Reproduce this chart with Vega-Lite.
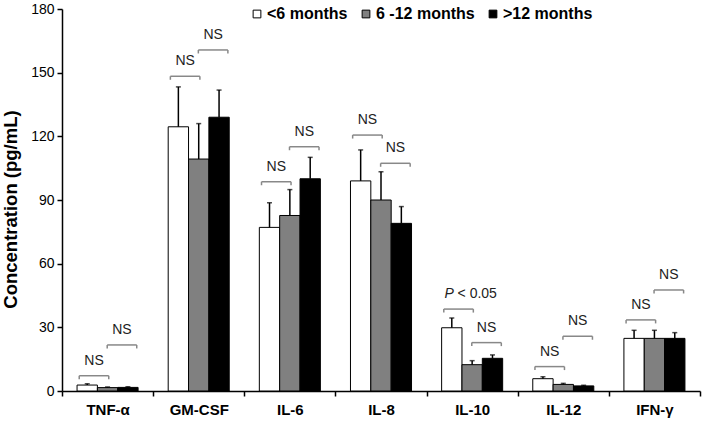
{
  "$schema": "https://vega.github.io/schema/vega-lite/v6.json",
  "autosize": "none",
  "width": 638,
  "height": 382,
  "padding": {"left": 62, "top": 9, "right": 5, "bottom": 35},
  "background": "white",
  "config": {
    "view": {"stroke": null},
    "font": "Liberation Sans",
    "axis": {"labelFont": "Liberation Sans", "titleFont": "Liberation Sans", "domainColor": "black", "tickColor": "black", "labelColor": "black", "titleColor": "black", "grid": false}
  },
  "datasets": {
    "bars": [
      {"cytokine": "TNF-α", "group": "<6 months", "mean": 2.8, "upper": 3.4},
      {"cytokine": "TNF-α", "group": "6 -12 months", "mean": 1.6, "upper": 1.9},
      {"cytokine": "TNF-α", "group": ">12 months", "mean": 1.7, "upper": 2.0},
      {"cytokine": "GM-CSF", "group": "<6 months", "mean": 124.5, "upper": 143.3},
      {"cytokine": "GM-CSF", "group": "6 -12 months", "mean": 109.3, "upper": 126.0},
      {"cytokine": "GM-CSF", "group": ">12 months", "mean": 129.0, "upper": 141.8},
      {"cytokine": "IL-6", "group": "<6 months", "mean": 77.1, "upper": 88.7},
      {"cytokine": "IL-6", "group": "6 -12 months", "mean": 82.7, "upper": 94.9},
      {"cytokine": "IL-6", "group": ">12 months", "mean": 100.0, "upper": 110.1},
      {"cytokine": "IL-8", "group": "<6 months", "mean": 99.0, "upper": 113.6},
      {"cytokine": "IL-8", "group": "6 -12 months", "mean": 90.0, "upper": 103.3},
      {"cytokine": "IL-8", "group": ">12 months", "mean": 79.0, "upper": 86.9},
      {"cytokine": "IL-10", "group": "<6 months", "mean": 29.8, "upper": 34.4},
      {"cytokine": "IL-10", "group": "6 -12 months", "mean": 12.4, "upper": 14.3},
      {"cytokine": "IL-10", "group": ">12 months", "mean": 15.4, "upper": 17.0},
      {"cytokine": "IL-12", "group": "<6 months", "mean": 5.8, "upper": 6.7},
      {"cytokine": "IL-12", "group": "6 -12 months", "mean": 3.1, "upper": 3.6},
      {"cytokine": "IL-12", "group": ">12 months", "mean": 2.4, "upper": 2.7},
      {"cytokine": "IFN-γ", "group": "<6 months", "mean": 24.8, "upper": 28.6},
      {"cytokine": "IFN-γ", "group": "6 -12 months", "mean": 24.8, "upper": 28.6},
      {"cytokine": "IFN-γ", "group": ">12 months", "mean": 24.8, "upper": 27.5}
    ],
    "sig": [
      {"cytokine": "TNF-α", "pair": "first", "level": 7.2, "label": "NS", "italic": ""},
      {"cytokine": "TNF-α", "pair": "second", "level": 21.7, "label": "NS", "italic": ""},
      {"cytokine": "GM-CSF", "pair": "first", "level": 148.3, "label": "NS", "italic": ""},
      {"cytokine": "GM-CSF", "pair": "second", "level": 160.7, "label": "NS", "italic": ""},
      {"cytokine": "IL-6", "pair": "first", "level": 98.6, "label": "NS", "italic": ""},
      {"cytokine": "IL-6", "pair": "second", "level": 115.1, "label": "NS", "italic": ""},
      {"cytokine": "IL-8", "pair": "first", "level": 120.6, "label": "NS", "italic": ""},
      {"cytokine": "IL-8", "pair": "second", "level": 107.3, "label": "NS", "italic": ""},
      {"cytokine": "IL-10", "pair": "first", "level": 38.6, "label": "< 0.05", "italic": "P"},
      {"cytokine": "IL-10", "pair": "second", "level": 22.8, "label": "NS", "italic": ""},
      {"cytokine": "IL-12", "pair": "first", "level": 11.5, "label": "NS", "italic": ""},
      {"cytokine": "IL-12", "pair": "second", "level": 25.8, "label": "NS", "italic": ""},
      {"cytokine": "IFN-γ", "pair": "first", "level": 33.5, "label": "NS", "italic": ""},
      {"cytokine": "IFN-γ", "pair": "second", "level": 47.6, "label": "NS", "italic": ""}
    ]
  },
  "layer": [
    {
      "data": {"name": "bars"},
      "mark": {"type": "bar", "stroke": "black", "strokeWidth": 1},
      "encoding": {
        "x": {"field": "cytokine", "type": "nominal", "sort": null,
          "scale": {"paddingInner": 0, "paddingOuter": 0},
          "axis": {"title": null, "labelAngle": 0, "tickBand": "extent", "labelFontSize": 15, "labelFontWeight": "bold", "labelPadding": 6, "tickSize": 5, "domainWidth": 1.5, "tickWidth": 1.5}},
        "xOffset": {"field": "group", "type": "nominal", "sort": ["<6 months", "6 -12 months", ">12 months"],
          "scale": {"paddingInner": 0, "paddingOuter": 0.74}},
        "y": {"field": "mean", "type": "quantitative",
          "scale": {"domain": [0, 180], "nice": false},
          "axis": {"title": "Concentration (pg/mL)", "values": [0, 30, 60, 90, 120, 150, 180], "labelFontSize": 14, "titleFontSize": 18.5, "titleFontWeight": "bold", "titlePadding": 10, "titleY": 200, "tickSize": 5, "labelPadding": 3, "domainWidth": 1.5, "tickWidth": 1.5}},
        "color": {"field": "group", "type": "nominal", "sort": ["<6 months", "6 -12 months", ">12 months"],
          "scale": {"domain": ["<6 months", "6 -12 months", ">12 months"], "range": ["white", "#808080", "black"]},
          "legend": {"title": null, "orient": "none", "legendX": 187, "legendY": -3, "direction": "horizontal", "symbolType": "square", "symbolSize": 60, "symbolStrokeColor": "black", "symbolStrokeWidth": 1, "labelFontSize": 16, "labelFontWeight": "bold", "labelFont": "Liberation Sans", "labelColor": "black", "labelOffset": 2, "columnPadding": 10}}
      }
    },
    {
      "data": {"name": "bars"},
      "mark": {"type": "rule", "color": "black", "strokeWidth": 1.5},
      "encoding": {
        "x": {"field": "cytokine", "type": "nominal", "sort": null},
        "xOffset": {"field": "group", "type": "nominal", "sort": ["<6 months", "6 -12 months", ">12 months"]},
        "y": {"field": "mean", "type": "quantitative"},
        "y2": {"field": "upper"}
      }
    },
    {
      "data": {"name": "bars"},
      "mark": {"type": "tick", "color": "black", "thickness": 1.5, "size": 5},
      "encoding": {
        "x": {"field": "cytokine", "type": "nominal", "sort": null},
        "xOffset": {"field": "group", "type": "nominal", "sort": ["<6 months", "6 -12 months", ">12 months"]},
        "y": {"field": "upper", "type": "quantitative"}
      }
    },
    {
      "data": {"name": "sig"},
      "transform": [{"filter": "datum.pair == 'first'"}],
      "layer": [
        {"mark": {"type": "rule", "color": "#888888", "strokeWidth": 1.5},
         "encoding": {"x": {"field": "cytokine", "type": "nominal", "sort": null, "bandPosition": 0.189}, "x2": {"field": "cytokine", "bandPosition": 0.513}, "y": {"field": "level", "type": "quantitative"}}},
        {"mark": {"type": "rule", "color": "#888888", "strokeWidth": 1.5, "y2Offset": 3.5},
         "encoding": {"x": {"field": "cytokine", "type": "nominal", "sort": null, "bandPosition": 0.189}, "y": {"field": "level", "type": "quantitative"}, "y2": {"field": "level"}}},
        {"mark": {"type": "rule", "color": "#888888", "strokeWidth": 1.5, "y2Offset": 3.5},
         "encoding": {"x": {"field": "cytokine", "type": "nominal", "sort": null, "bandPosition": 0.513}, "y": {"field": "level", "type": "quantitative"}, "y2": {"field": "level"}}},
        {"transform": [{"filter": "datum.italic == ''"}],
         "mark": {"type": "text", "fontSize": 14, "color": "#222222", "baseline": "alphabetic", "dy": -11, "font": "Liberation Sans"},
         "encoding": {"x": {"field": "cytokine", "type": "nominal", "sort": null, "bandPosition": 0.351}, "y": {"field": "level", "type": "quantitative"}, "text": {"field": "label"}}},
        {"transform": [{"filter": "datum.italic != ''"}],
         "mark": {"type": "text", "fontSize": 14, "color": "#222222", "baseline": "alphabetic", "dy": -11, "align": "left", "dx": -14, "fontStyle": "italic", "font": "Liberation Sans"},
         "encoding": {"x": {"field": "cytokine", "type": "nominal", "sort": null, "bandPosition": 0.351}, "y": {"field": "level", "type": "quantitative"}, "text": {"field": "italic"}}},
        {"transform": [{"filter": "datum.italic != ''"}],
         "mark": {"type": "text", "fontSize": 14, "color": "#222222", "baseline": "alphabetic", "dy": -11, "align": "left", "dx": -1, "font": "Liberation Sans"},
         "encoding": {"x": {"field": "cytokine", "type": "nominal", "sort": null, "bandPosition": 0.351}, "y": {"field": "level", "type": "quantitative"}, "text": {"field": "label"}}}
      ]
    },
    {
      "data": {"name": "sig"},
      "transform": [{"filter": "datum.pair == 'second'"}],
      "layer": [
        {"mark": {"type": "rule", "color": "#888888", "strokeWidth": 1.5},
         "encoding": {"x": {"field": "cytokine", "type": "nominal", "sort": null, "bandPosition": 0.496}, "x2": {"field": "cytokine", "bandPosition": 0.82}, "y": {"field": "level", "type": "quantitative"}}},
        {"mark": {"type": "rule", "color": "#888888", "strokeWidth": 1.5, "y2Offset": 3.5},
         "encoding": {"x": {"field": "cytokine", "type": "nominal", "sort": null, "bandPosition": 0.496}, "y": {"field": "level", "type": "quantitative"}, "y2": {"field": "level"}}},
        {"mark": {"type": "rule", "color": "#888888", "strokeWidth": 1.5, "y2Offset": 3.5},
         "encoding": {"x": {"field": "cytokine", "type": "nominal", "sort": null, "bandPosition": 0.82}, "y": {"field": "level", "type": "quantitative"}, "y2": {"field": "level"}}},
        {"mark": {"type": "text", "fontSize": 14, "color": "#222222", "baseline": "alphabetic", "dy": -11, "font": "Liberation Sans"},
         "encoding": {"x": {"field": "cytokine", "type": "nominal", "sort": null, "bandPosition": 0.658}, "y": {"field": "level", "type": "quantitative"}, "text": {"field": "label"}}}
      ]
    }
  ]
}
